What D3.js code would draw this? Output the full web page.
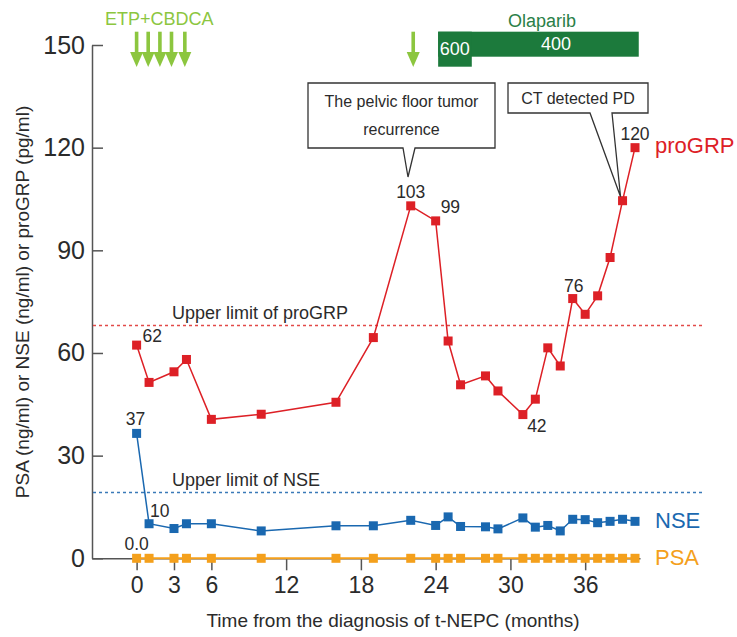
<!DOCTYPE html>
<html>
<head>
<meta charset="utf-8">
<script src="https://cdn.jsdelivr.net/npm/d3@7"></script>
<style>
  body { margin: 0; background: #fff; }
  svg { font-family: "Liberation Sans", Arial, sans-serif; }
</style>
</head>
<body>
<svg id="chart" width="737" height="637"></svg>
<script>
// data
var months = [0, 1, 3, 4, 6, 10, 16, 19, 22, 24, 25, 26, 28, 29, 31, 32, 33, 34, 35, 36, 37, 38, 39, 40];
var proGRP = [62.3, 51.4, 54.5, 58.1, 40.6, 42.1, 45.6, 64.5, 103, 98.6, 63.5, 50.7, 53.3, 48.9, 42, 46.5, 61.5, 56.2, 75.9, 71.3, 76.7, 87.9, 104.5, 120];
var NSE = [36.5, 10.1, 8.7, 10.1, 10.1, 8.0, 9.5, 9.5, 11.1, 9.6, 12.1, 9.3, 9.2, 8.6, 11.8, 9.1, 9.6, 8.0, 11.4, 11.3, 10.4, 10.8, 11.4, 10.8];
var PSA = [0, 0, 0, 0, 0, 0, 0, 0, 0, 0, 0, 0, 0, 0, 0, 0, 0, 0, 0, 0, 0, 0, 0, 0];

var yTicks = [0, 30, 60, 90, 120, 150];
var xTicks = [0, 3, 6, 12, 18, 24, 30, 36];

var limitProGRP = 68;
var limitNSE = 19.2;

var etpArrows = [0, 0.93, 1.87, 2.8, 3.87];
var singleArrow = [22.2];
var olaparib600 = [24.2, 26.9];
var olaparib400 = [24.2, 40.3];

var red = '#dd2026';
var blue = '#1a68b0';
var orange = '#f4a01c';
var lightgreen = '#8cc63f';
var darkgreen = '#1c7a3c';
var axisgray = '#555';
var textgray = '#2b2b2b';

var svg = d3.select('#chart');

var x = d3.scaleLinear().domain([-3.58, 40.4]).range([92, 640]);
var y = d3.scaleLinear().domain([0, 150]).range([558.3, 45]);

/// Axes
var yAxis = d3.axisLeft(y).tickValues(yTicks).tickSize(-11).tickSizeOuter(0).tickPadding(7);
var gy = svg.append('g').attr('transform', 'translate(92,0)').call(yAxis);
gy.selectAll('text').attr('font-size', '25px').attr('fill', textgray).attr('font-family', 'Liberation Sans, Arial');
gy.selectAll('line, path').attr('stroke', axisgray).attr('stroke-width', 1.5);

var xAxis = d3.axisBottom(x).tickValues(xTicks).tickSize(12).tickSizeOuter(0).tickPadding(6);
var gx = svg.append('g').attr('transform', 'translate(0,558.3)').call(xAxis);
gx.selectAll('text').attr('font-size', '23px').attr('fill', textgray).attr('font-family', 'Liberation Sans, Arial');
gx.selectAll('line, path').attr('stroke', axisgray).attr('stroke-width', 1.5);

svg.append('text')
  .attr('transform', 'translate(29,302) rotate(-90)')
  .attr('text-anchor', 'middle')
  .attr('font-size', '19px')
  .attr('fill', textgray)
  .text('PSA (ng/ml) or NSE (ng/ml) or proGRP (pg/ml)');

svg.append('text')
  .attr('x', 393)
  .attr('y', 627)
  .attr('text-anchor', 'middle')
  .attr('font-size', '19px')
  .attr('fill', textgray)
  .text('Time from the diagnosis of t-NEPC (months)');

/// Upper limit lines
function limitLine(val, color, label) {
  svg.append('line')
    .attr('x1', 93).attr('x2', 705)
    .attr('y1', y(val)).attr('y2', y(val))
    .attr('stroke', color)
    .attr('stroke-width', 1.5)
    .attr('stroke-dasharray', '3,3');
  svg.append('text')
    .attr('x', 172)
    .attr('y', y(val) - 7)
    .attr('font-size', '18px')
    .attr('fill', textgray)
    .text(label);
}
limitLine(limitProGRP, '#e24a48', 'Upper limit of proGRP');
limitLine(limitNSE, '#3a7ab8', 'Upper limit of NSE');

/// Series
var series = [
  { name: 'PSA', values: PSA, color: orange, width: 2 },
  { name: 'NSE', values: NSE, color: blue, width: 1.5 },
  { name: 'proGRP', values: proGRP, color: red, width: 1.5 }
];

var line = d3.line()
  .x(function(d) { return x(d[0]); })
  .y(function(d) { return y(d[1]); });

series.forEach(function(s) {
  var pts = months.map(function(m, i) { return [m, s.values[i]]; });
  svg.append('path')
    .attr('d', line(pts))
    .attr('fill', 'none')
    .attr('stroke', s.color)
    .attr('stroke-width', s.width);
  svg.selectAll(null)
    .data(pts)
    .enter().append('rect')
    .attr('x', function(d) { return x(d[0]) - 4.5; })
    .attr('y', function(d) { return y(d[1]) - 4.5; })
    .attr('width', 9)
    .attr('height', 9)
    .attr('fill', s.color);
  var last = pts[pts.length - 1];
  svg.append('text')
    .attr('x', x(last[0]) + 20)
    .attr('y', y(last[1]) + (s.name === 'proGRP' ? 5 : 7))
    .attr('font-size', '22px')
    .attr('fill', s.color)
    .text(s.name);
});

/// Value labels
var valueLabels = [
  { v: proGRP, i: 0, text: '62', anchor: 'start', dx: 6, dy: -3 },
  { v: NSE, i: 0, text: '37', anchor: 'middle', dx: -1, dy: -8 },
  { v: NSE, i: 1, text: '10', anchor: 'start', dx: 1, dy: -7 },
  { v: PSA, i: 0, text: '0.0', anchor: 'middle', dx: 0, dy: -8 },
  { v: proGRP, i: 8, text: '103', anchor: 'middle', dx: 0, dy: -8 },
  { v: proGRP, i: 9, text: '99', anchor: 'start', dx: 5, dy: -8 },
  { v: proGRP, i: 14, text: '42', anchor: 'middle', dx: 14, dy: 17 },
  { v: proGRP, i: 18, text: '76', anchor: 'middle', dx: 1, dy: -7 },
  { v: proGRP, i: 23, text: '120', anchor: 'middle', dx: 0, dy: -8 }
];
valueLabels.forEach(function(l) {
  svg.append('text')
    .attr('x', x(months[l.i]) + l.dx)
    .attr('y', y(l.v[l.i]) + l.dy)
    .attr('text-anchor', l.anchor)
    .attr('font-size', '17.5px')
    .attr('fill', textgray)
    .text(l.text);
});

/// Callouts
function callout(x0, x1, y0, y1, n0, n1, tip, lines) {
  var p = d3.path();
  p.moveTo(x0, y0);
  p.lineTo(x1, y0);
  p.lineTo(x1, y1);
  p.lineTo(n1, y1);
  p.lineTo(tip[0], tip[1]);
  p.lineTo(n0, y1);
  p.lineTo(x0, y1);
  p.closePath();
  svg.append('path')
    .attr('d', p.toString())
    .attr('fill', '#fff')
    .attr('stroke', '#333')
    .attr('stroke-width', 1.3);
  lines.forEach(function(t) {
    svg.append('text')
      .attr('x', (x0 + x1) / 2)
      .attr('y', t.y)
      .attr('text-anchor', 'middle')
      .attr('font-size', '16px')
      .attr('fill', textgray)
      .text(t.text);
  });
}
callout(308, 495, 83, 148, 403, 415, [408, 177],
  [{ text: 'The pelvic floor tumor', y: 107 }, { text: 'recurrence', y: 135 }]);
callout(508, 648, 83, 113, 590, 612, [x(months[22]) - 2, y(proGRP[22]) - 4],
  [{ text: 'CT detected PD', y: 104 }]);

/// Treatment annotations
svg.append('text')
  .attr('x', 105)
  .attr('y', 25)
  .attr('font-size', '18px')
  .attr('fill', lightgreen)
  .text('ETP+CBDCA');

function arrow(m) {
  var cx = x(m);
  svg.append('rect')
    .attr('x', cx - 1.8).attr('y', 31.7)
    .attr('width', 3.6).attr('height', 22)
    .attr('fill', lightgreen);
  svg.append('path')
    .attr('d', 'M' + (cx - 6.5) + ',52 L' + (cx + 6.5) + ',52 L' + cx + ',67 Z')
    .attr('fill', lightgreen);
}
etpArrows.forEach(arrow);
singleArrow.forEach(arrow);

svg.append('rect')
  .attr('x', x(olaparib400[0])).attr('y', 31.7)
  .attr('width', x(olaparib400[1]) - x(olaparib400[0]))
  .attr('height', 25)
  .attr('fill', darkgreen);
svg.append('rect')
  .attr('x', x(olaparib600[0])).attr('y', 31.7)
  .attr('width', x(olaparib600[1]) - x(olaparib600[0]))
  .attr('height', 35)
  .attr('fill', darkgreen);

svg.append('text')
  .attr('x', 542).attr('y', 26.5)
  .attr('text-anchor', 'middle')
  .attr('font-size', '18px')
  .attr('fill', '#2a8048')
  .text('Olaparib');
svg.append('text')
  .attr('x', x(olaparib600[0]) + 1.5).attr('y', 55)
  .attr('font-size', '18px')
  .attr('fill', '#fff')
  .text('600');
svg.append('text')
  .attr('x', 556).attr('y', 50)
  .attr('text-anchor', 'middle')
  .attr('font-size', '18px')
  .attr('fill', '#fff')
  .text('400');
</script>
</body>
</html>
